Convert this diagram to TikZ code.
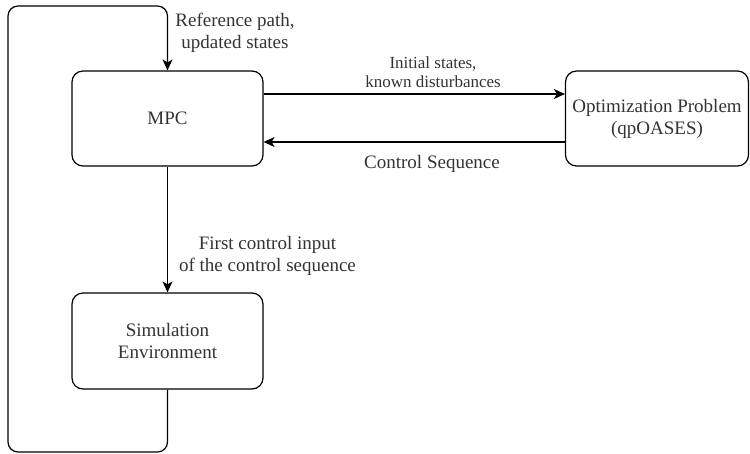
\documentclass[tikz,border=0pt]{standalone}
\usepackage{fontspec}
\setmainfont{Liberation Serif}
\usetikzlibrary{arrows.meta}

\begin{document}
\begin{tikzpicture}[x=1pt,y=-1pt]
\tikzstyle{block}=[rectangle,draw=black,line width=1.2pt,rounded corners=11pt,align=center,text=black!80,font=\fontsize{19}{22}\selectfont]
\tikzstyle{flow}=[draw=black,line width=1.2pt,-{Stealth[length=11pt,width=10pt,inset=3pt]}]
\tikzstyle{lbl}=[align=center,text=black!80,font=\fontsize{19}{22}\selectfont]
\tikzstyle{smalllbl}=[align=center,text=black!80,font=\fontsize{17}{19}\selectfont]
\useasboundingbox (0,0) rectangle (750,453);
\node [block,minimum width=191pt,minimum height=95pt] (mpc) at (167.5,118.5) {MPC};
\node [block,minimum width=191pt,minimum height=96pt] (sim) at (167.5,341) {Simulation\\Environment};
\node [block,minimum width=183pt,minimum height=95pt] (opt) at (657,118.5) {Optimization Problem\\(qpOASES)};
\coordinate (loopbl) at (8,452);
\coordinate (looptl) at (8,6);
\draw [flow] ([yshift=24.5pt]mpc.east) -- ([yshift=24.5pt]opt.west);
\draw [flow] ([yshift=-23.5pt]opt.west) -- ([yshift=-23.5pt]mpc.east);
\draw [flow] (mpc.south) -- (sim.north);
\draw [flow,rounded corners=10pt] (sim.south) |- (loopbl) -- (looptl) -| (mpc.north);
\node [lbl] (reflbl) at (235,33) {Reference path,\\updated states};
\node [smalllbl] (initlbl) at (433,72) {Initial states,\\known disturbances};
\node [lbl] (seqlbl) at (432,164) {Control Sequence};
\node [lbl] (firstlbl) at (267.5,256) {First control input\\of the control sequence};
\end{tikzpicture}
\end{document}
